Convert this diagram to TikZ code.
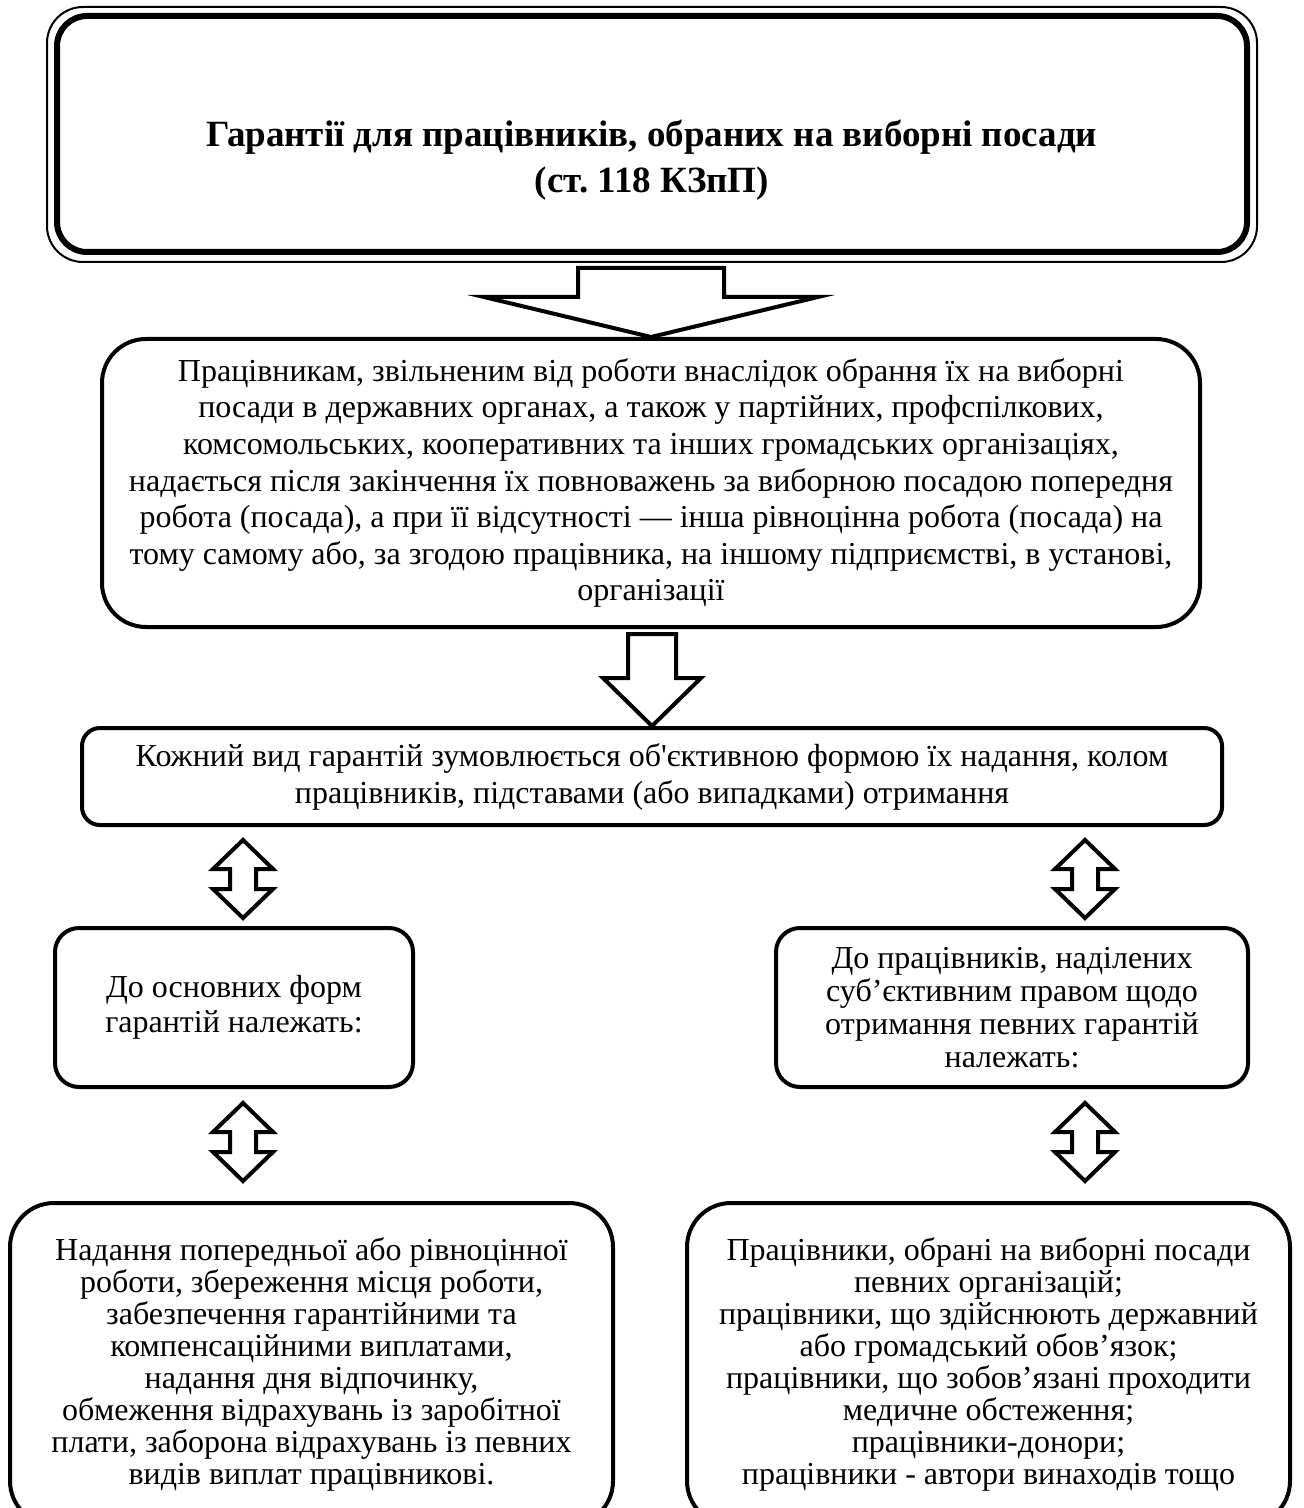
\documentclass[tikz,border=0pt]{standalone}
\usepackage{fontspec}
\setmainfont{Liberation Serif}
\usetikzlibrary{calc}

\tikzset{
  box/.style={draw,line width=2pt,align=center,inner sep=0pt},
  blockarr/.style={draw,line width=2pt,fill=white,line join=miter},
}

% hollow arrow pointing down: from, to, gap, shaft half, head half, head length
\newcommand{\downarr}[6]{%
  \draw[blockarr] let \p1=($(#1)+(0,#3)$), \p2=(#2) in
    (\p2) -- ++(-#5,-#6) -- ++(#5-#4,0) |- (\p1) -| ($(\p2)+(#4,-#6)$) -- ++(#5-#4,0) -- cycle;}

% hollow two-way arrow: column, upper node, lower node, top gap, bottom gap
\newcommand{\bothways}[5]{%
  \draw[blockarr] let \p1=($(#1 |- #2.south)+(0,#4)$), \p2=($(#1 |- #3.north)+(0,-#5)$) in
    (\p1) -- ++(30,29) -- ++(-17,0) |- ($(\p2)+(30,-29)$) -- (\p2) -- ++(-30,-29) -- ++(17,0)
    |- ($(\p1)+(-30,29)$) -- cycle;}

\begin{document}
\begin{tikzpicture}[x=0.5pt,y=-0.5pt,font=\fontsize{16}{18.3}\selectfont]
\useasboundingbox (0,0) rectangle (1303,1508);
\clip (0,0) rectangle (1303,1508);

% heading
\node[box,line width=3pt,rounded corners=15pt,minimum width=595pt,minimum height=118pt] (title) at (652,134) {};
\draw[line width=1pt,rounded corners=18pt] ($(title.north west)+(-7,-6)$) rectangle ($(title.south east)+(7,7)$);
\node[font=\fontsize{18.5}{23}\selectfont\bfseries,align=center] (head) at (652,160)
  {Гарантії для працівників, обраних на виборні посади\\(ст.\ 118 КЗпП)};

\node[box,rounded corners=22pt,minimum width=549pt,minimum height=144pt] (main) at (651,483)
  {Працівникам, звільненим від роботи внаслідок обрання їх на виборні\\
   посади в державних органах, а також у партійних, профспілкових,\\
   комсомольських, кооперативних та інших громадських організаціях,\\
   надається після закінчення їх повноважень за виборною посадою попередня\\
   робота (посада), а при її відсутності — інша рівноцінна робота (посада) на\\
   тому самому або, за згодою працівника, на іншому підприємстві, в установі,\\
   організації};

\node[box,rounded corners=9pt,minimum width=570pt,minimum height=48.5pt,
  font=\fontsize{16}{18.5}\selectfont] (kind) at (652,776.5)
  {Кожний вид гарантій зумовлюється об\textquotesingle єктивною формою їх надання, колом\\
   працівників, підставами (або випадками) отримання};

\node[box,rounded corners=12pt,minimum width=179pt,minimum height=79.5pt,
  font=\fontsize{16}{17.5}\selectfont] (forms) at (234,1007.5)
  {До основних форм\\гарантій належать:};
\node[box,rounded corners=12pt,minimum width=236pt,minimum height=79.5pt,
  font=\fontsize{16}{16.5}\selectfont] (who) at (1012,1007.5)
  {До працівників, наділених\\суб’єктивним правом щодо\\отримання певних гарантій\\належать:};

\node[box,rounded corners=22pt,minimum width=301.5pt,minimum height=161pt,
  font=\fontsize{16}{16}\selectfont] (formlist) at (311.5,1364)
  {Надання попередньої або рівноцінної\\
   роботи, збереження місця роботи,\\
   забезпечення гарантійними та\\
   компенсаційними виплатами,\\
   надання дня відпочинку,\\
   обмеження відрахувань із заробітної\\
   плати, заборона відрахувань із певних\\
   видів виплат працівникові.};
\node[box,rounded corners=22pt,minimum width=301.5pt,minimum height=161pt,
  font=\fontsize{16}{16}\selectfont] (wholist) at (988.5,1364)
  {Працівники, обрані на виборні посади\\
   певних організацій;\\
   працівники, що здійснюють державний\\
   або громадський обов’язок;\\
   працівники, що зобов’язані проходити\\
   медичне обстеження;\\
   працівники-донори;\\
   працівники - автори винаходів тощо};

\coordinate (lcol) at (243,0);
\coordinate (rcol) at (1085,0);

\downarr{title.south}{main.north}{13}{73}{167}{40}
\downarr{main.south}{kind.north}{5}{24}{49}{48}
\bothways{lcol}{kind}{forms}{13}{8}
\bothways{rcol}{kind}{who}{13}{8}
\bothways{lcol}{forms}{formlist}{14}{20}
\bothways{rcol}{who}{wholist}{14}{20}
\end{tikzpicture}
\end{document}
